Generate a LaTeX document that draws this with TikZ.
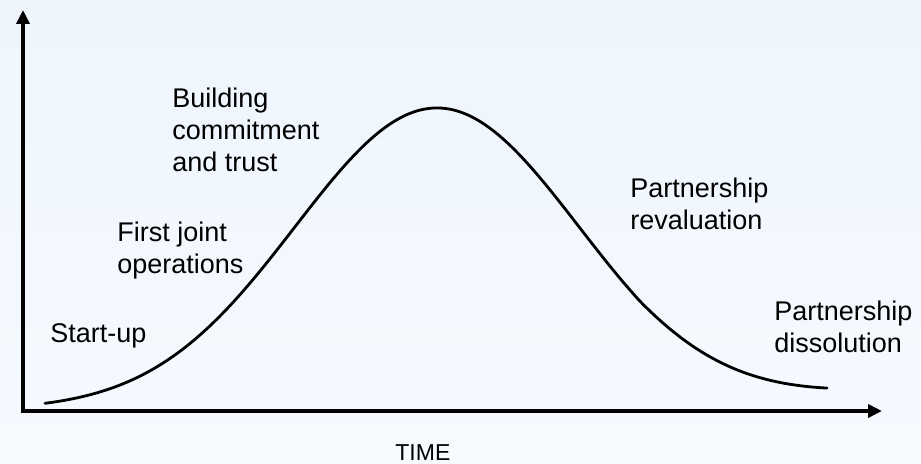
\documentclass[tikz,border=0pt]{standalone}
\usepackage{fontspec}
\setmainfont{Liberation Sans}
\usetikzlibrary{arrows.meta, positioning}
\definecolor{bgtop}{RGB}{238,245,253}
\definecolor{bgbottom}{RGB}{246,250,255}
\tikzset{> = { Triangle[length = 7pt, width = 6.5pt] }}

\begin{document}
\begin{tikzpicture}[x = 0.5pt, y = -0.5pt,
		axis/.style = { line width = 2.2pt, line join = miter, <-> },
		curve/.style = { line width = 1.4pt, line cap = round },
		stage/.style = { align = left, inner sep = 0pt, anchor = base west, font = \fontsize{13.5pt}{16pt}\selectfont }]
		% background and frame of the picture
		\shade [top color = bgtop, bottom color = bgbottom] (0,0) rectangle (921,464);
		\useasboundingbox (0,0) rectangle (921,464);

		\coordinate (ytip)   at (23,10);
		\coordinate (origin) at (23,411);
		\coordinate (xtip)   at (882,411);
		\draw [axis] (ytip) -- (origin) -- (xtip);

		% bell curve, with a slower tail on the right
		\draw [curve] plot [domain = 45:827, samples = 120, smooth]
			(\x, {410 - 302*exp(-1*pow((\x-437)/100,2)/4.0328) - 0.08*max(0,\x-640)});

		% base of a node with several lines = baseline of its last line
		\node [stage] (start)  at (50,343)  {Start-up};
		\node [stage] (first)  at (117,274) {First joint\\operations};
		\node [stage] (build)  at (172,172) {Building\\commitment\\and trust};
		\node [stage] (reval)  at (630,230) {Partnership\\revaluation};
		\node [stage] (dissol) at (774,353) {Partnership\\dissolution};
		\node [stage, font = \fontsize{11.5pt}{14pt}\selectfont] (time) at (395,461) {TIME};
	\end{tikzpicture}
\end{document}
